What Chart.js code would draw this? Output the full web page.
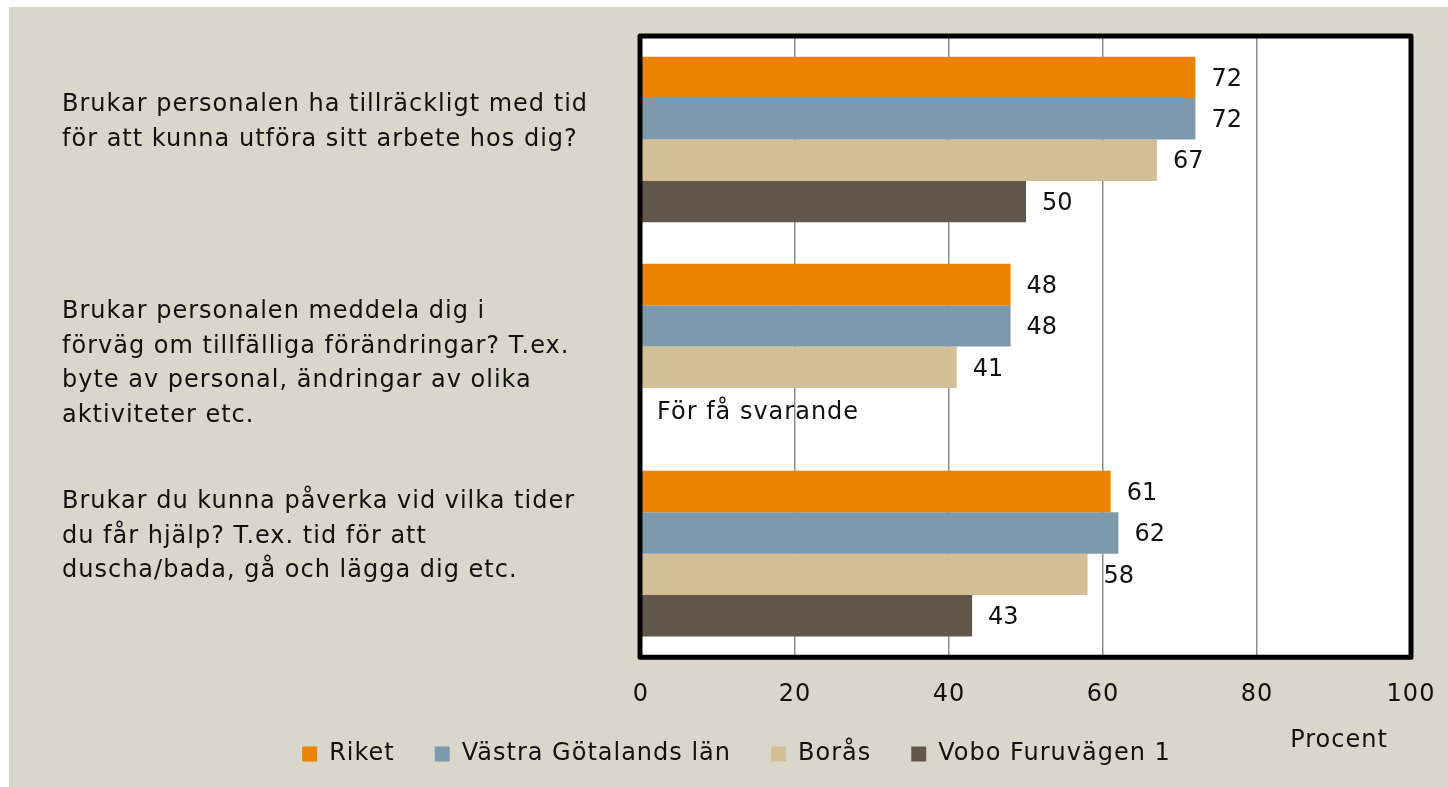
<!DOCTYPE html>
<html>
<head>
<meta charset="utf-8">
<script src="https://cdn.jsdelivr.net/npm/chart.js@4"></script>
<style>
    body { margin: 0; background: #ffffff; }
    #wrap { position: absolute; left: 9px; top: 7px; width: 1439px; height: 780px; background: #d9d7ca; }
</style>
</head>
<body>
<div id="wrap"><canvas id="chart"></canvas></div>
<script>
// Questions (y axis), one line per array entry; the blank lines nudge each block up or down
const questions = [
    ['Brukar personalen ha tillräckligt med tid', 'för att kunna utföra sitt arbete hos dig?', ''],
    ['', 'Brukar personalen meddela dig i', 'förväg om tillfälliga förändringar? T.ex.', 'byte av personal, ändringar av olika', 'aktiviteter etc.'],
    ['Brukar du kunna påverka vid vilka tider', 'du får hjälp? T.ex. tid för att', 'duscha/bada, gå och lägga dig etc.', '']
];

// Series values (percent)
const riket = [72, 48, 61];
const vastraGotaland = [72, 48, 62];
const boras = [67, 41, 58];
const vobo = [50, null, 43];

const seriesNames = ['Riket', 'Västra Götalands län', 'Borås', 'Vobo Furuvägen 1'];
const xTicks = [0, 20, 40, 60, 80, 100];
const tooFewText = 'För få svarande';
const axisUnit = 'Procent';

const FONT = '"DejaVu Sans", sans-serif';
const TEXT = '#111111';

// Wider text (the original uses a broad geometric face); canvas resets wipe this, so set it every pass
const spacingPlugin = {
    id: 'spacing',
    beforeUpdate(chart) { chart.ctx.letterSpacing = '1px'; },
    beforeDraw(chart) { chart.ctx.letterSpacing = '1px'; },
    afterLayout(chart) {
        // pull the legend row up, closer to the axis numbers
        chart.legend.top -= 30;
        chart.legend.bottom -= 30;
    }
};

// White plot area under the bars
const plotBgPlugin = {
    id: 'plotBg',
    beforeDraw(chart) {
        const a = chart.chartArea;
        chart.ctx.save();
        chart.ctx.fillStyle = '#ffffff';
        chart.ctx.fillRect(a.left, a.top, a.right - a.left, a.bottom - a.top);
        chart.ctx.restore();
    }
};

// Value labels, the "too few" note, the plot frame and the unit label
const extrasPlugin = {
    id: 'extras',
    afterDatasetsDraw(chart) {
        const ctx = chart.ctx;
        const area = chart.chartArea;
        ctx.save();
        ctx.font = '24px ' + FONT;
        ctx.fillStyle = TEXT;
        ctx.textBaseline = 'middle';
        ctx.textAlign = 'left';
        chart.data.datasets.forEach((ds, di) => {
            const meta = chart.getDatasetMeta(di);
            meta.data.forEach((bar, i) => {
                const v = ds.data[i];
                if (v === null || v === undefined) {
                    ctx.fillText(tooFewText, area.left + 16, bar.y + 4);
                } else {
                    ctx.letterSpacing = '0px';
                    ctx.fillText(String(v), bar.x + 16, bar.y + 2);
                    ctx.letterSpacing = '1px';
                }
            });
        });

        // heavy black frame round the plot area
        ctx.strokeStyle = '#000000';
        ctx.lineWidth = 5;
        ctx.lineJoin = 'round';
        ctx.strokeRect(area.left - 1, area.top, area.right - area.left + 1, area.bottom - area.top);

        // unit text under the axis, right side
        ctx.textAlign = 'center';
        ctx.fillText(axisUnit, area.right - 72, 734);
        ctx.restore();
    }
};

const ctx = document.getElementById('chart').getContext('2d');

new Chart(ctx, {
    type: 'bar',
    data: {
        labels: questions,
        datasets: [
            { label: seriesNames[0], data: riket, backgroundColor: '#e98300' },
            { label: seriesNames[1], data: vastraGotaland, backgroundColor: '#7d9aac' },
            { label: seriesNames[2], data: boras, backgroundColor: '#d3bf96' },
            { label: seriesNames[3], data: vobo, backgroundColor: '#62554a' }
        ]
    },
    options: {
        indexAxis: 'y',
        responsive: true,
        maintainAspectRatio: false,
        animation: false,
        datasets: {
            bar: { categoryPercentage: 0.8, barPercentage: 1.0 }
        },
        layout: {
            padding: { left: 53, right: 37, top: 29, bottom: -19 }
        },
        scales: {
            x: {
                min: 0,
                max: 100,
                afterBuildTicks: (scale) => {
                    scale.ticks = xTicks.map(v => ({ value: v }));
                },
                afterFit: (scale) => {
                    scale.paddingLeft = 0;
                    scale.paddingRight = 0;
                },
                grid: { color: '#8c8c8c', lineWidth: 1.5, drawTicks: false },
                border: { display: false },
                ticks: {
                    padding: 23,
                    color: TEXT,
                    font: { family: FONT, size: 24 }
                }
            },
            y: {
                grid: { display: false, drawTicks: false },
                border: { display: false },
                afterFit: (scale) => {
                    scale.width = 579;
                    scale.paddingTop = 0;
                    scale.paddingBottom = 0;
                },
                ticks: {
                    autoSkip: false,
                    crossAlign: 'far',
                    color: TEXT,
                    font: { family: FONT, size: 24, lineHeight: 1.44 }
                }
            }
        },
        plugins: {
            legend: {
                position: 'bottom',
                labels: {
                    boxWidth: 15,
                    boxHeight: 15,
                    padding: 40,
                    color: TEXT,
                    font: { family: FONT, size: 24 }
                }
            },
            tooltip: { enabled: false }
        }
    },
    plugins: [spacingPlugin, plotBgPlugin, extrasPlugin]
});
</script>
</body>
</html>
